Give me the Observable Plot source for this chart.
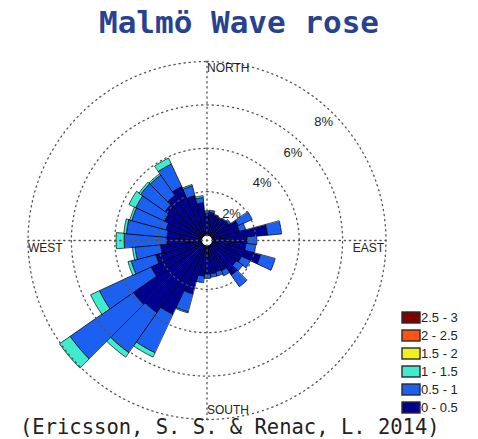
<!DOCTYPE html>
<html>
<head>
<meta charset="utf-8">
<script src="https://cdn.jsdelivr.net/npm/d3@7"></script>
<script src="https://cdn.jsdelivr.net/npm/@observablehq/plot@0.6"></script>
<style>
  body { margin: 0; background: #fff; }
  #fig { position: relative; width: 478px; height: 439px; overflow: hidden; }
  #title { position: absolute; left: 0; top: 7px; width: 478px; text-align: center;
           font: bold 31px/31px "DejaVu Sans Mono", monospace; color: #28428f; }
  #chart { position: absolute; left: 0; top: 45px; }
  #legend { position: absolute; left: 402px; top: 308px; }
  #caption { position: absolute; left: 20px; top: 419px; white-space: nowrap;
             font: 20.5px/17px "DejaVu Sans Mono", monospace; color: #222; }
  .wr-swatches { font-family: "Liberation Sans", Arial, sans-serif !important; font-size: 13px !important;
                 color: #222; margin: 0 !important; }
  .wr-swatch { height: 18px; padding: 0 !important; }
  .wr-swatch > svg { margin-right: 1px !important; }
  .wr-swatch rect { stroke: #2a2a2a; stroke-width: 1.4; }
</style>
</head>
<body>
<div id="fig">
  <div id="title">Malmö Wave rose</div>
  <div id="chart"></div>
  <div id="legend"></div>
  <div id="caption">(Ericsson, S. S. &amp; Renac, L. 2014)</div>
</div>
<script>
// Direction sectors (degrees clockwise from north), 10° wide
const directions = [0, 10, 20, 30, 40, 50, 60, 70, 80, 90, 100, 110, 120, 130, 140, 150, 160, 170,
                    180, 190, 200, 210, 220, 230, 240, 250, 260, 270, 280, 290, 300, 310, 320, 330, 340, 350];

// Wave height classes (m) and their colours
const classLabels = ["0 - 0.5", "0.5 - 1", "1 - 1.5", "1.5 - 2", "2 - 2.5", "2.5 - 3"];
const classColors = ["#00008e", "#1c60f2", "#40ecd0", "#eef022", "#ff5214", "#800000"];

// Frequency (% of time) per sector for each height class
const freq_0_05 = [1.0, 1.05, 0.95, 0.9, 0.95, 1.0, 1.35, 1.3, 2.55, 1.6, 1.55, 2.3, 1.5, 1.4, 1.7, 1.3, 1.25, 1.3,
                   1.3, 1.4, 2.3, 3.5, 3.8, 3.9, 2.6, 2.2, 1.9, 1.6, 1.6, 1.7, 1.9, 2.1, 2.3, 2.5, 1.9, 1.5];
const freq_05_1 = [0.12, 0.1, 0.05, 0.05, 0.05, 0.1, 0.7, 0.3, 0.65, 0.45, 0.45, 0.7, 0.45, 0.35, 0.65, 0.25, 0.2, 0.15,
                   0.2, 0.3, 0.85, 1.95, 2.25, 3.55, 2.62, 1.17, 1.18, 1.97, 1.88, 1.63, 1.46, 1.37, 1.14, 1.14, 0.46, 0.24];
const freq_1_15 = [0, 0, 0, 0, 0, 0, 0, 0, 0, 0, 0, 0, 0, 0, 0, 0, 0, 0,
                   0, 0, 0.05, 0.22, 0.25, 0.6, 0.45, 0.15, 0.12, 0.37, 0.12, 0.1, 0.35, 0.1, 0.08, 0.3, 0.06, 0.08];
const freq_15_2 = [0, 0, 0, 0, 0, 0, 0, 0, 0, 0, 0, 0, 0, 0, 0, 0, 0, 0,
                   0, 0, 0, 0, 0, 0, 0, 0, 0, 0, 0, 0, 0, 0, 0, 0, 0, 0];
const freq_2_25 = [0, 0, 0, 0, 0, 0, 0, 0, 0, 0, 0, 0, 0, 0, 0, 0, 0, 0,
                   0, 0, 0, 0, 0, 0, 0, 0, 0, 0, 0, 0, 0, 0, 0, 0, 0, 0];
const freq_25_3 = [0, 0, 0, 0, 0, 0, 0, 0, 0, 0, 0, 0, 0, 0, 0, 0, 0, 0,
                   0, 0, 0, 0, 0, 0, 0, 0, 0, 0, 0, 0, 0, 0, 0, 0, 0, 0];

// Percentage rings and compass labels
const ringPercents = [2, 4, 6, 8];
const ringLabels = ["2%", "4%", "6%", "8%"];
const compassLabels = ["NORTH", "EAST", "SOUTH", "WEST"];

const series = [freq_0_05, freq_05_1, freq_1_15, freq_15_2, freq_2_25, freq_25_3];

const HOLE = 0.25;                 // empty centre, in percent units
const OUTER = HOLE + ringPercents[ringPercents.length - 1];
const HALF = 5;                    // half sector width (degrees)

// point at compass angle a (deg) and radius r, planar coordinates with north up
const polar = (r, a) => [r * Math.sin(a * Math.PI / 180), r * Math.cos(a * Math.PI / 180)];
const arc = (r, a0, a1, n) => d3.range(n + 1).map(i => polar(r, a0 + (a1 - a0) * i / n));
const circle = r => arc(r, 0, 360, 180);

// stacked wedges, one polygon per sector and class
const wedges = [];
directions.forEach((dir, i) => {
  let base = 0;
  series.forEach((vals, k) => {
    const v = vals[i];
    if (!v) return;
    const r0 = HOLE + base, r1 = HOLE + base + v;
    base += v;
    const ring = [...arc(r1, dir - HALF, dir + HALF, 8), ...arc(r0, dir + HALF, dir - HALF, 8)];
    ring.push(ring[0]);
    wedges.push({type: "Feature", properties: {cls: classLabels[k]},
                 geometry: {type: "Polygon", coordinates: [ring]}});
  });
});

const rings = ringPercents.map(p => ({type: "LineString", coordinates: circle(HOLE + p)}));
const axes = [
  {type: "LineString", coordinates: [polar(OUTER, 270), polar(OUTER, 90)]},
  {type: "LineString", coordinates: [polar(OUTER, 180), polar(OUTER, 0)]}
];

const dotted = {stroke: "#555", strokeWidth: 1.3, strokeDasharray: "1.3,3.8"};
const labelFont = {fontFamily: "Liberation Sans, Arial, sans-serif", fill: "#222"};

const chart = Plot.plot({
  width: 478,
  height: 394,
  marginLeft: 27.5,
  marginRight: 92.5,
  marginTop: 16,
  marginBottom: 20,
  style: {background: "transparent", overflow: "visible"},
  projection: {type: "reflect-y", domain: {type: "LineString", coordinates: circle(OUTER)}, clip: false},
  color: {domain: classLabels, range: classColors},
  marks: [
    Plot.geo(wedges, {fill: d => d.properties.cls, stroke: "#000", strokeWidth: 0.7}),
    Plot.geo(rings, dotted),
    Plot.geo(axes, dotted),
    Plot.text(ringPercents, {
      x: p => polar(HOLE + p, 45)[0], y: p => polar(HOLE + p, 45)[1],
      text: (p, i) => ringLabels[i], dx: -10, dy: 8, fontSize: 13, ...labelFont
    }),
    Plot.text([compassLabels[0]], {x: 0, y: OUTER, text: d => d, textAnchor: "start", lineAnchor: "top", dy: 2, fontSize: 12, ...labelFont}),
    Plot.text([compassLabels[1]], {x: OUTER, y: 0, text: d => d, textAnchor: "end", lineAnchor: "top", dx: -2, dy: 3, fontSize: 12, ...labelFont}),
    Plot.text([compassLabels[2]], {x: 0, y: -OUTER, text: d => d, textAnchor: "start", lineAnchor: "bottom", dy: -6, fontSize: 12, ...labelFont}),
    Plot.text([compassLabels[3]], {x: -OUTER, y: 0, text: d => d, textAnchor: "start", lineAnchor: "top", dy: 3, fontSize: 12, ...labelFont})
  ]
});
document.getElementById("chart").appendChild(chart);

// legend, highest class on top
const legend = Plot.legend({
  color: {domain: classLabels.slice().reverse(), range: classColors.slice().reverse()},
  columns: 1,
  swatchWidth: 18,
  swatchHeight: 11,
  className: "wr"
});
document.getElementById("legend").appendChild(legend);
</script>
</body>
</html>
